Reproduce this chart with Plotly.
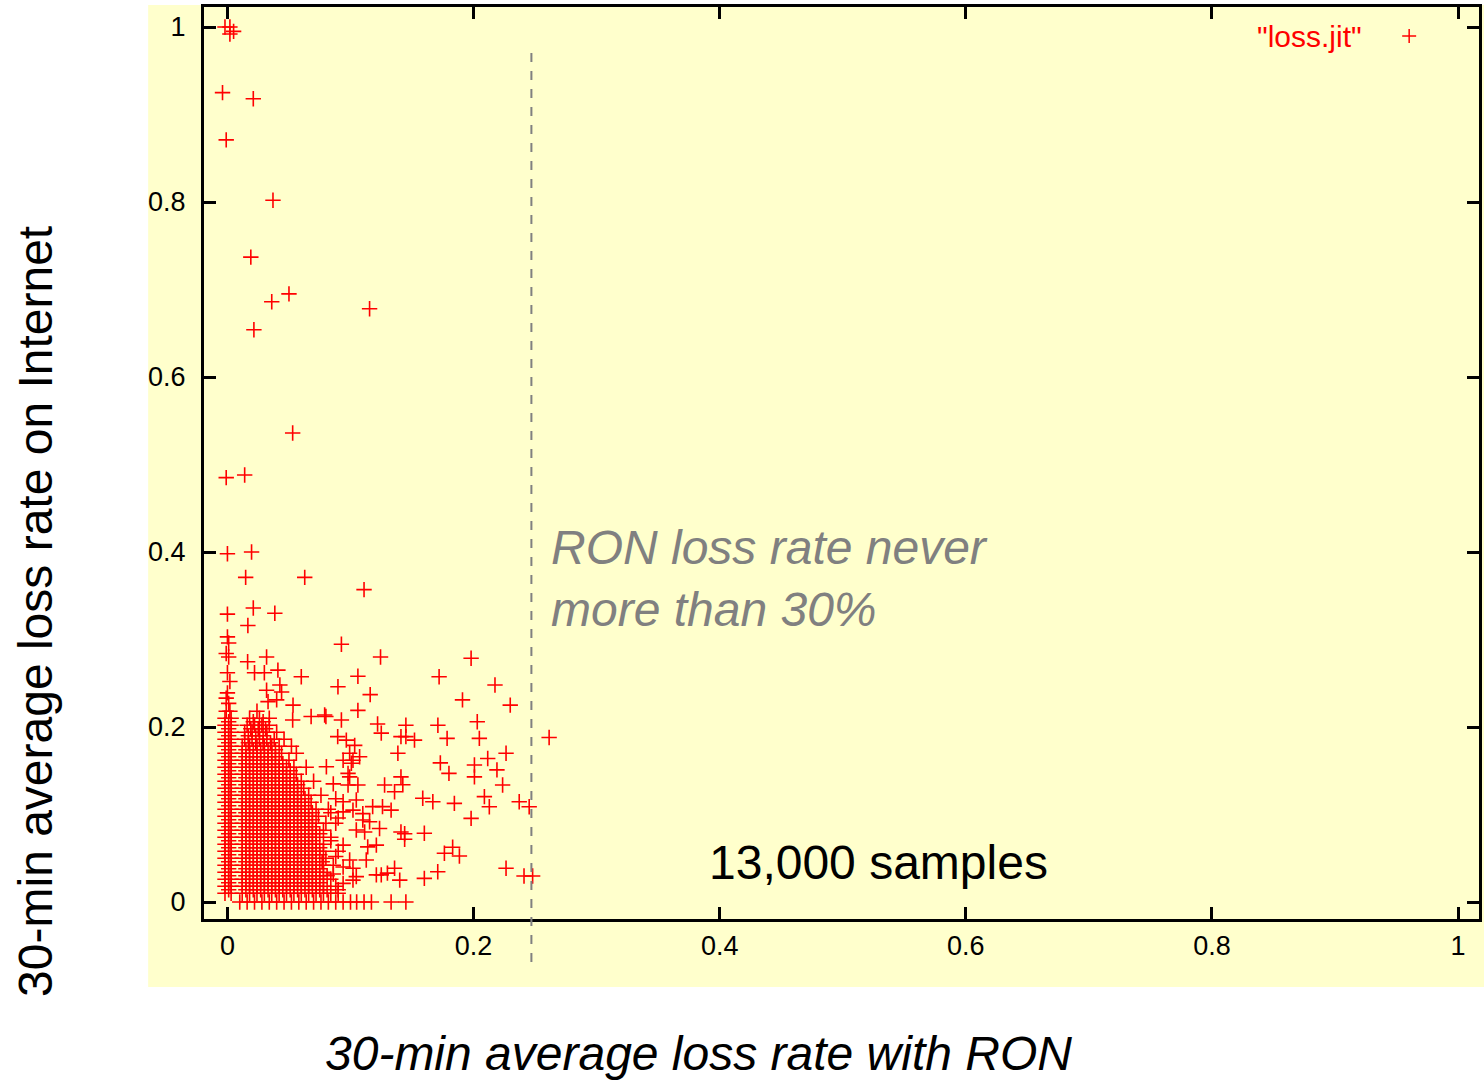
import plotly.graph_objects as go

# ---------------- data ----------------
# isolated / sparse samples: (RON loss rate, Internet loss rate)
SPARSE = [
    (-0.002, 1.000), (0.002, 1.000), (0.005, 0.995), (0.002, 0.992),
    (-0.004, 0.925), (0.021, 0.918), (-0.001, 0.871), (0.037, 0.802),
    (0.019, 0.737), (0.036, 0.686), (0.050, 0.695), (0.0215, 0.654),
    (0.1155, 0.678), (0.053, 0.536), (0.014, 0.488), (-0.001, 0.485),
    (0.000, 0.398), (0.0196, 0.400), (0.0148, 0.371), (0.0628, 0.371),
    (0.111, 0.357), (0.000, 0.329), (0.021, 0.336), (0.0385, 0.330),
    (0.0166, 0.316), (0.0926, 0.2945),
    (0.000, 0.303), (0.001, 0.296), (-0.001, 0.284), (0.001, 0.280),
    (0.000, 0.262), (0.002, 0.252), (0.000, 0.239), (-0.001, 0.233),
    (0.001, 0.227),
    (0.0164, 0.2746), (0.0318, 0.280), (0.022, 0.262), (0.030, 0.262),
    (0.041, 0.265), (0.060, 0.2575), (0.0318, 0.242), (0.0426, 0.248),
    (0.044, 0.240), (0.040, 0.231), (0.0533, 0.225), (0.033, 0.229),
    (0.068, 0.212), (0.080, 0.212), (0.053, 0.208), (0.0898, 0.246),
    (0.1244, 0.280), (0.198, 0.2785), (0.106, 0.258), (0.172, 0.2575),
    (0.116, 0.237), (0.2174, 0.248), (0.191, 0.231), (0.2298, 0.225),
    (0.106, 0.219), (0.079, 0.2137), (0.122, 0.2034), (0.145, 0.202),
    (0.171, 0.202), (0.203, 0.206), (0.0926, 0.208), (0.125, 0.193),
    (0.141, 0.189), (0.145, 0.189), (0.152, 0.185), (0.1785, 0.187),
    (0.2047, 0.187), (0.2614, 0.188), (0.0896, 0.189), (0.0966, 0.185),
    (0.1034, 0.179), (0.1385, 0.170), (0.0993, 0.170), (0.1074, 0.166),
    (0.094, 0.162), (0.102, 0.162), (0.173, 0.159), (0.2115, 0.164),
    (0.2264, 0.170), (0.1007, 0.1585), (0.0804, 0.1546), (0.180, 0.147),
    (0.2007, 0.1566), (0.219, 0.151), (0.2007, 0.143), (0.141, 0.143),
    (0.1425, 0.134), (0.098, 0.147), (0.0993, 0.143), (0.098, 0.1337),
    (0.106, 0.1337), (0.1277, 0.1337), (0.2236, 0.1337), (0.1358, 0.126),
    (0.1587, 0.1185), (0.1669, 0.1146), (0.1844, 0.1127), (0.2088, 0.1204),
    (0.2128, 0.1089), (0.2371, 0.1146), (0.2452, 0.1089), (0.198, 0.0956),
    (0.094, 0.1146), (0.1047, 0.1166), (0.094, 0.103), (0.102, 0.105),
    (0.110, 0.101), (0.118, 0.109), (0.126, 0.109), (0.133, 0.105),
    (0.110, 0.0937), (0.1155, 0.0917), (0.1047, 0.0823), (0.1115, 0.080),
    (0.1236, 0.084), (0.141, 0.080), (0.144, 0.078), (0.160, 0.0785),
    (0.144, 0.0717), (0.094, 0.065), (0.114, 0.063), (0.121, 0.065),
    (0.1763, 0.0557), (0.183, 0.0625), (0.1885, 0.0526), (0.1128, 0.048),
    (0.0993, 0.048), (0.094, 0.040), (0.102, 0.0385), (0.1047, 0.029),
    (0.121, 0.031), (0.125, 0.031), (0.130, 0.033), (0.1358, 0.0385),
    (0.140, 0.025), (0.160, 0.027), (0.1709, 0.0346), (0.2264, 0.0385),
    (0.241, 0.0297), (0.248, 0.0297), (0.094, 0.0213), (0.102, 0.025),
    (0.086, 0.135), (0.088, 0.118), (0.090, 0.096), (0.084, 0.070),
    (0.088, 0.052), (0.086, 0.032), (0.090, 0.014), (0.084, 0.102),
]

# dense core: Internet loss rate (thousandths) -> RON loss rates (thousandths)
DENSE_ROWS = {
    0:   [10, 16, 22, 28, 34, 40, 46, 52, 58, 64, 70, 76, 82, 88, 94, 100,
          105, 111, 117, 133, 145],
    10:  [-2, 3, 12, 18, 24, 30, 36, 42, 48, 54, 60, 66, 72, 78, 84, 90],
    14:  [1, 15, 21, 27, 33, 39, 45, 51, 57, 63, 69, 75, 81],
    18:  [-2, 3, 12, 18, 24, 30, 36, 42, 48, 54, 60, 66, 72, 78, 88],
    22:  [1, 15, 21, 27, 33, 39, 45, 51, 57, 63, 69, 75],
    26:  [-2, 3, 12, 18, 24, 30, 36, 42, 48, 54, 60, 66, 72, 78, 84],
    30:  [1, 15, 21, 27, 33, 39, 45, 51, 57, 63, 69, 75, 81],
    34:  [-2, 3, 12, 18, 24, 30, 36, 42, 48, 54, 60, 66, 72, 78],
    38:  [1, 15, 21, 27, 33, 39, 45, 51, 57, 63, 69, 75],
    42:  [-2, 3, 12, 18, 24, 30, 36, 42, 48, 54, 60, 66, 72, 78, 86],
    46:  [1, 15, 21, 27, 33, 39, 45, 51, 57, 63, 69, 77],
    50:  [-2, 3, 12, 18, 24, 30, 36, 42, 48, 54, 60, 66, 72, 80],
    54:  [1, 15, 21, 27, 33, 39, 45, 51, 57, 63, 69, 75],
    58:  [-2, 3, 12, 18, 24, 30, 36, 42, 48, 54, 60, 66, 72, 78, 90],
    62:  [1, 15, 21, 27, 33, 39, 45, 51, 57, 63, 69, 75],
    66:  [-2, 3, 12, 18, 24, 30, 36, 42, 48, 54, 60, 66, 72, 78],
    70:  [1, 15, 21, 27, 33, 39, 45, 51, 57, 63, 69],
    74:  [-2, 3, 12, 18, 24, 30, 36, 42, 48, 54, 60, 66, 72, 84],
    78:  [1, 15, 21, 27, 33, 39, 45, 51, 57, 63, 69, 75],
    82:  [-2, 3, 12, 18, 24, 30, 36, 42, 48, 54, 60, 66, 72, 78],
    86:  [1, 15, 21, 27, 33, 39, 45, 51, 57, 63, 69],
    90:  [-2, 3, 12, 18, 24, 30, 36, 42, 48, 54, 60, 66, 72, 80, 88],
    94:  [1, 15, 21, 27, 33, 39, 45, 51, 57, 63, 69],
    98:  [-2, 3, 12, 18, 24, 30, 36, 42, 48, 54, 60, 66, 74],
    102: [1, 15, 21, 27, 33, 39, 45, 51, 57, 63, 69],
    106: [-2, 3, 12, 18, 24, 30, 36, 42, 48, 54, 60, 66, 72, 82],
    110: [1, 15, 21, 27, 33, 39, 45, 51, 57, 63],
    114: [-2, 3, 12, 18, 24, 30, 36, 42, 48, 54, 60, 68],
    118: [1, 15, 21, 27, 33, 39, 45, 51, 57, 63],
    122: [-2, 3, 12, 18, 24, 30, 36, 42, 48, 54, 60, 66, 76],
    126: [1, 15, 21, 27, 33, 39, 45, 51, 57],
    130: [-2, 3, 12, 18, 24, 30, 36, 42, 48, 54, 62],
    134: [1, 15, 21, 27, 33, 39, 45, 51, 57],
    138: [-2, 3, 12, 18, 24, 30, 36, 42, 48, 54, 60, 70],
    142: [1, 15, 21, 27, 33, 39, 45, 51],
    146: [-2, 3, 12, 18, 24, 30, 36, 42, 48, 56],
    150: [1, 15, 21, 27, 33, 39, 45, 51],
    154: [-2, 3, 12, 18, 24, 30, 36, 42, 48, 54, 64],
    158: [1, 15, 21, 27, 33, 39, 45],
    162: [-2, 3, 12, 18, 24, 30, 36, 42, 50],
    166: [1, 15, 21, 27, 33, 39],
    170: [-2, 3, 12, 18, 24, 30, 36, 44, 56],
    174: [1, 15, 21, 27, 33, 39],
    178: [-2, 3, 12, 18, 24, 30, 36, 42, 52],
    182: [1, 17, 23, 29, 35],
    186: [-2, 3, 14, 20, 26, 32, 38, 46],
    190: [1, 17, 23, 29],
    194: [-2, 3, 14, 20, 26, 32, 40],
    198: [1, 19, 25, 31],
    202: [-2, 3, 16, 22, 28, 34],
    206: [1, 21, 29],
    210: [-2, 3, 18, 26, 34],
    218: [-1, 2, 24],
}

TICKS = [0, 0.2, 0.4, 0.6, 0.8, 1]
RON_MAX = 0.247          # position of the dashed separator
SERIES_NAME = '"loss.jit"'

# ---------------- build arrays ----------------
xs = [p[0] for p in SPARSE]
ys = [p[1] for p in SPARSE]
for yk, row in DENSE_ROWS.items():
    for xk in row:
        xs.append(xk / 1000.0)
        ys.append(yk / 1000.0)

YELLOW = "#FFFFCC"
FONT = "Liberation Sans, Arial, Helvetica, sans-serif"

fig = go.Figure()
fig.add_trace(go.Scatter(
    x=xs, y=ys, mode="markers", name=SERIES_NAME, showlegend=False,
    marker=dict(symbol="cross-thin", size=11, color="red",
                line=dict(color="red", width=1.6)),
    cliponaxis=True,
))

axis_common = dict(
    showline=True, linecolor="black", linewidth=3, mirror="ticks",
    ticks="inside", ticklen=12, tickwidth=3, tickcolor="black",
    showgrid=False, zeroline=False, tickvals=TICKS,
    tickfont=dict(family=FONT, size=27, color="black"),
)

fig.update_layout(
    width=1484, height=1080,
    margin=dict(l=204, r=2, t=7, b=161),
    paper_bgcolor="white", plot_bgcolor=YELLOW,
    font=dict(family=FONT, color="black"),
    xaxis=dict(range=[-0.01905, 1.01702], ticklabelstandoff=1, **axis_common),
    yaxis=dict(range=[-0.01943, 1.02286], ticklabelstandoff=10, **axis_common),
    showlegend=False,
)

# yellow backdrop extending beyond plot area
fig.add_shape(type="rect", xref="paper", yref="paper",
              x0=-0.0438, x1=1.01, y0=-0.0746, y1=1.0022,
              fillcolor=YELLOW, line=dict(width=0), layer="below")

# dashed separator
fig.add_shape(type="line", xref="x", yref="paper",
              x0=RON_MAX, x1=RON_MAX, y0=-0.0471, y1=0.955,
              line=dict(color="#808080", width=2, dash="dash"))

# legend key (gnuplot style: text then symbol)
fig.add_annotation(xref="paper", yref="paper", x=(1367 - 204) / 1278, y=(919 - 36) / 912,
                   xanchor="right", yanchor="middle", showarrow=False,
                   text=SERIES_NAME, font=dict(family=FONT, size=30, color="red"))
fig.add_shape(type="line", xref="paper", yref="paper",
              x0=(1405 - 204) / 1278, x1=(1419 - 204) / 1278,
              y0=(919 - 36) / 912, y1=(919 - 36) / 912,
              line=dict(color="red", width=1.5))
fig.add_shape(type="line", xref="paper", yref="paper",
              x0=(1412 - 204) / 1278, x1=(1412 - 204) / 1278,
              y0=(919 - 29) / 912, y1=(919 - 43) / 912,
              line=dict(color="red", width=1.5))

# annotations
fig.add_annotation(xref="x", yref="y", x=0.2615, y=0.3697,
                   xanchor="left", yanchor="middle", align="left", showarrow=False,
                   text="RON loss rate never<br>more than 30%",
                   font=dict(family=FONT, size=48, color="#808080", style="italic"))
fig.add_annotation(xref="x", yref="y", x=0.5294, y=0.0457,
                   xanchor="center", yanchor="middle", showarrow=False,
                   text="13,000 samples",
                   font=dict(family=FONT, size=48, color="black"))

# axis titles
fig.add_annotation(xref="paper", yref="paper", x=(35 - 204) / 1278, y=(919 - 611.5) / 912,
                   xanchor="center", yanchor="middle", showarrow=False, textangle=-90,
                   text="30-min average loss rate on Internet",
                   font=dict(family=FONT, size=48, color="black"))
fig.add_annotation(xref="paper", yref="paper", x=(700 - 204) / 1278, y=(919 - 1053) / 912,
                   xanchor="center", yanchor="middle", showarrow=False,
                   text="30-min average loss rate with RON",
                   font=dict(family=FONT, size=48, color="black", style="italic"))

fig.write_html("out.html", config={"displayModeBar": False},
               post_script="document.body.style.margin='0px';")
